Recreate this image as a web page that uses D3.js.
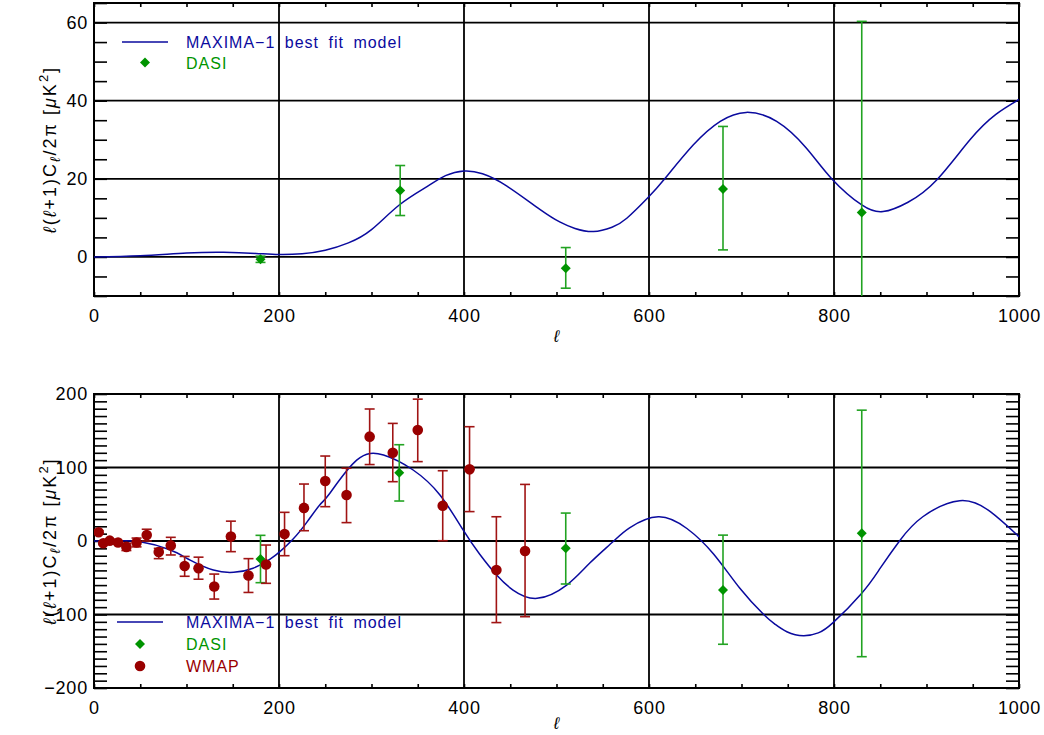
<!DOCTYPE html>
<html>
<head>
<meta charset="utf-8">
<script src="https://cdn.jsdelivr.net/npm/d3@7"></script>
<style>
  body { margin: 0; background: #fff; }
  svg text { font-family: "Liberation Sans", Arial, sans-serif; }
</style>
</head>
<body>
<svg id="chart" width="1044" height="735"></svg>
<script>
// top panel: model curve
const topModelL = [0, 50, 100, 140, 175, 200, 225, 250, 275, 300, 330, 360, 380, 400, 420, 446, 482, 504, 520, 540, 560, 576, 599, 617, 648, 677, 705, 738, 770, 798, 830, 853, 880, 911, 947, 975, 1000];
const topModelV = [0, 0.3, 1.0, 1.2, 0.9, 0.6, 0.8, 1.7, 3.6, 7, 13.3, 18, 20.8, 22, 21.3, 18.2, 12.2, 8.9, 7.3, 6.5, 7.6, 9.9, 15.2, 20, 28.7, 34.7, 37, 34.7, 27.9, 19.9, 13.3, 11.6, 14, 19.7, 30, 36.5, 40.3];

// top panel: DASI
const topDasiL = [180, 331, 510, 680, 830];
const topDasiV = [-0.6, 17.0, -2.9, 17.4, 11.4];
const topDasiLo = [-1.4, 10.6, -8.0, 1.8, -40];
const topDasiHi = [0.2, 23.4, 2.4, 33.4, 60.3];

// bottom panel: model curve
const botModelL = [0, 25, 50, 82, 104, 129, 151, 172, 190, 201, 215, 230, 244, 255, 284, 313, 345, 374, 399, 417, 435, 453, 479, 511, 536, 561, 579, 610, 641, 670, 698, 724, 736, 749, 767, 783, 799, 830, 850, 871, 896, 936, 969, 1000];
const botModelV = [0, 0, -1, -12, -26, -39.5, -42.6, -37, -25, -14.5, 2.3, 25.4, 49, 65, 110, 117, 96.6, 62.6, 15, -18, -46, -66.7, -78, -60, -30, -1, 18, 33, 17, -18, -64, -100, -113, -123.5, -129, -125, -111, -71, -37, 0.4, 33, 54.8, 40, 5.9];

// bottom panel: DASI
const botDasiL = [180, 330, 510, 680, 830];
const botDasiV = [-24.5, 93, -10, -66.7, 10.4];
const botDasiLo = [-56.7, 54.4, -58.5, -140.5, -157.4];
const botDasiHi = [7.7, 131, 38, 8, 178];

// bottom panel: WMAP
const wmapL = [5, 10, 17, 26, 35, 46, 57, 70, 83, 98, 113, 130, 148, 167, 186, 206, 227, 250, 273, 298, 323, 350, 377, 406, 435, 466];
const wmapV = [12, -3, 0.5, -2, -8, -2, 8, -15, -6, -34, -37, -62, 6, -47, -32, 9.5, 45, 81.6, 62.6, 142, 120, 151, 48, 97.5, -39.5, -13.6];
const wmapLo = [10, -5, -1.5, -4, -13, -8, 0, -24, -19, -48, -52, -79, -14.5, -70, -57.6, -20, 14, 46.7, 25, 104, 80.7, 108, 0.4, 40, -111, -103];
const wmapHi = [14, -1, 2.5, 0, -3, 4, 16, -10, 5, -21, -22, -45, 27, -24, -5.5, 39, 77.5, 115.6, 99, 179.6, 160, 193, 95.6, 155.5, 33, 77];

const BLUE = '#0a0a9e', GREEN = '#009400', GREEN_BAR = '#22a322', RED = '#990000', RED_BAR = '#a01414';

const svg = d3.select('#chart');
const X0 = 94, X1 = 1019;
const fmt = (d) => String(d).replace('-', '\u2212');

function zip(l, v, lo, hi) {
  return l.map((d, i) => ({ l: d, v: v[i], lo: lo ? lo[i] : null, hi: hi ? hi[i] : null }));
}

function drawPanel(cfg, idx) {
  const x = d3.scaleLinear().domain([0, 1000]).range([X0, X1]);
  const y = d3.scaleLinear().domain(cfg.yDomain).range([cfg.yBottom, cfg.yTop]);
  const g = svg.append('g');

  //裁剪区域
  const clipId = 'clip' + idx;
  g.append('clipPath').attr('id', clipId)
    .append('rect').attr('x', X0).attr('y', cfg.yTop).attr('width', X1 - X0).attr('height', cfg.yBottom - cfg.yTop);

  //网格
  g.append('g').selectAll('line').data([200, 400, 600, 800]).join('line')
    .attr('x1', (d) => x(d)).attr('x2', (d) => x(d))
    .attr('y1', cfg.yTop).attr('y2', cfg.yBottom)
    .attr('stroke', '#000').attr('stroke-width', 1.8);
  g.append('g').selectAll('line').data(cfg.yGrid).join('line')
    .attr('x1', X0).attr('x2', X1)
    .attr('y1', (d) => y(d)).attr('y2', (d) => y(d))
    .attr('stroke', '#000').attr('stroke-width', 1.8);

  //坐标轴
  const xt = d3.range(0, 1001, 50);
  const yt = d3.range(cfg.yDomain[0], cfg.yDomain[1] + 0.01, cfg.yMinor);
  g.append('g').attr('transform', `translate(0,${cfg.yBottom})`)
    .call(d3.axisBottom(x).tickValues(xt).tickSize(-4).tickPadding(13).tickFormat((d) => (d % 200 === 0 ? fmt(d) : '')));
  g.append('g').attr('transform', `translate(0,${cfg.yTop})`)
    .call(d3.axisTop(x).tickValues(xt).tickSize(-4).tickFormat(() => ''));
  g.append('g').attr('transform', `translate(${X0},0)`)
    .call(d3.axisLeft(y).tickValues(yt).tickSize(-13).tickPadding(6).tickFormat((d) => (cfg.yLabels.includes(d) ? fmt(d) : '')));
  g.append('g').attr('transform', `translate(${X1},0)`)
    .call(d3.axisRight(y).tickValues(yt).tickSize(-13).tickFormat(() => ''));
  g.selectAll('.domain').remove();
  g.selectAll('.tick line').attr('stroke', '#000').attr('stroke-width', 1.6);
  g.selectAll('.tick text').attr('font-size', 18).attr('letter-spacing', 0.8).attr('fill', '#000');

  //外框
  g.append('rect').attr('x', X0).attr('y', cfg.yTop).attr('width', X1 - X0).attr('height', cfg.yBottom - cfg.yTop)
    .attr('fill', 'none').attr('stroke', '#000').attr('stroke-width', 2);

  //模型曲线
  const plot = g.append('g').attr('clip-path', `url(#${clipId})`);
  const line = d3.line().x((d) => x(d.l)).y((d) => y(d.v)).curve(d3.curveNatural);
  plot.append('path').datum(zip(cfg.modelL, cfg.modelV))
    .attr('d', line).attr('fill', 'none').attr('stroke', BLUE).attr('stroke-width', 1.5);

  //数据点
  cfg.sets.forEach((s) => {
    const data = zip(s.l, s.v, s.lo, s.hi);
    const eb = plot.append('g').selectAll('g').data(data).join('g')
      .attr('stroke', s.bar).attr('stroke-width', 1.6);
    eb.append('line').attr('x1', (d) => x(d.l)).attr('x2', (d) => x(d.l))
      .attr('y1', (d) => y(d.lo)).attr('y2', (d) => y(d.hi));
    eb.append('line').attr('x1', (d) => x(d.l) - 5).attr('x2', (d) => x(d.l) + 5)
      .attr('y1', (d) => y(d.lo)).attr('y2', (d) => y(d.lo));
    eb.append('line').attr('x1', (d) => x(d.l) - 5).attr('x2', (d) => x(d.l) + 5)
      .attr('y1', (d) => y(d.hi)).attr('y2', (d) => y(d.hi));
    plot.append('g').selectAll('path').data(data).join('path')
      .attr('d', s.shape === 'circle' ? circlePath : diamondPath)
      .attr('transform', (d) => `translate(${x(d.l)},${y(d.v)})`)
      .attr('fill', s.color);
  });

  //坐标轴标题
  g.append('text').attr('x', x(500)).attr('y', cfg.yBottom + cfg.xTitleDy)
    .attr('text-anchor', 'middle').attr('font-size', 17).attr('font-style', 'italic').text('\u2113');

  const yl = g.append('text')
    .attr('transform', `translate(56,${(cfg.yTop + cfg.yBottom) / 2}) rotate(-90)`)
    .attr('text-anchor', 'middle').attr('font-size', 18).attr('letter-spacing', 2);
  yl.append('tspan').attr('font-style', 'italic').text('\u2113');
  yl.append('tspan').text('(');
  yl.append('tspan').attr('font-style', 'italic').text('\u2113');
  yl.append('tspan').text('+1)C');
  yl.append('tspan').attr('font-style', 'italic').attr('font-size', 14).attr('dy', 4).text('\u2113');
  yl.append('tspan').attr('dy', -4).text('/2\u03c0 [');
  yl.append('tspan').attr('font-style', 'italic').text('\u03bc');
  yl.append('tspan').text('K');
  yl.append('tspan').attr('font-size', 13).attr('dy', -8).text('2');
  yl.append('tspan').attr('dy', 8).text(']');

  //图例
  const lg = g.append('g');
  const L = cfg.legend;
  lg.append('line').attr('x1', L.x - 23).attr('x2', L.x + 23).attr('y1', L.y).attr('y2', L.y)
    .attr('stroke', BLUE).attr('stroke-width', 1.5);
  const items = [{ t: 'MAXIMA\u22121 best fit model', c: BLUE }].concat(cfg.sets.map((s) => ({ t: s.name, c: s.color, shape: s.shape })));
  items.forEach((it, i) => {
    const yy = L.y + i * L.step;
    if (it.shape) {
      lg.append('path').attr('d', it.shape === 'circle' ? circlePath : diamondPath)
        .attr('transform', `translate(${L.x},${yy})`).attr('fill', it.c);
    }
    lg.append('text').attr('x', 186).attr('y', yy + 6).attr('font-size', 16)
      .attr('letter-spacing', 1).attr('word-spacing', 4).attr('fill', it.c).text(it.t);
  });
}

const diamondPath = 'M0,-5L5,0L0,5L-5,0Z';
const circlePath = d3.arc()({ innerRadius: 0, outerRadius: 5.3, startAngle: 0, endAngle: 2 * Math.PI });

drawPanel({
  yDomain: [-10, 65], yTop: 3, yBottom: 296, yMinor: 5, yGrid: [0, 20, 40, 60], yLabels: [0, 20, 40, 60],
  modelL: topModelL, modelV: topModelV, xTitleDy: 46,
  sets: [{ name: 'DASI', l: topDasiL, v: topDasiV, lo: topDasiLo, hi: topDasiHi, color: GREEN, bar: GREEN_BAR, shape: 'diamond' }],
  legend: { x: 145, y: 42, step: 20.5 },
}, 0);

drawPanel({
  yDomain: [-200, 200], yTop: 394, yBottom: 688, yMinor: 10, yGrid: [-100, 0, 100], yLabels: [-200, -100, 0, 100, 200],
  modelL: botModelL, modelV: botModelV, xTitleDy: 41,
  sets: [
    { name: 'DASI', l: botDasiL, v: botDasiV, lo: botDasiLo, hi: botDasiHi, color: GREEN, bar: GREEN_BAR, shape: 'diamond' },
    { name: 'WMAP', l: wmapL, v: wmapV, lo: wmapLo, hi: wmapHi, color: RED, bar: RED_BAR, shape: 'circle' },
  ],
  legend: { x: 140, y: 622, step: 22 },
}, 1);
</script>
</body>
</html>
